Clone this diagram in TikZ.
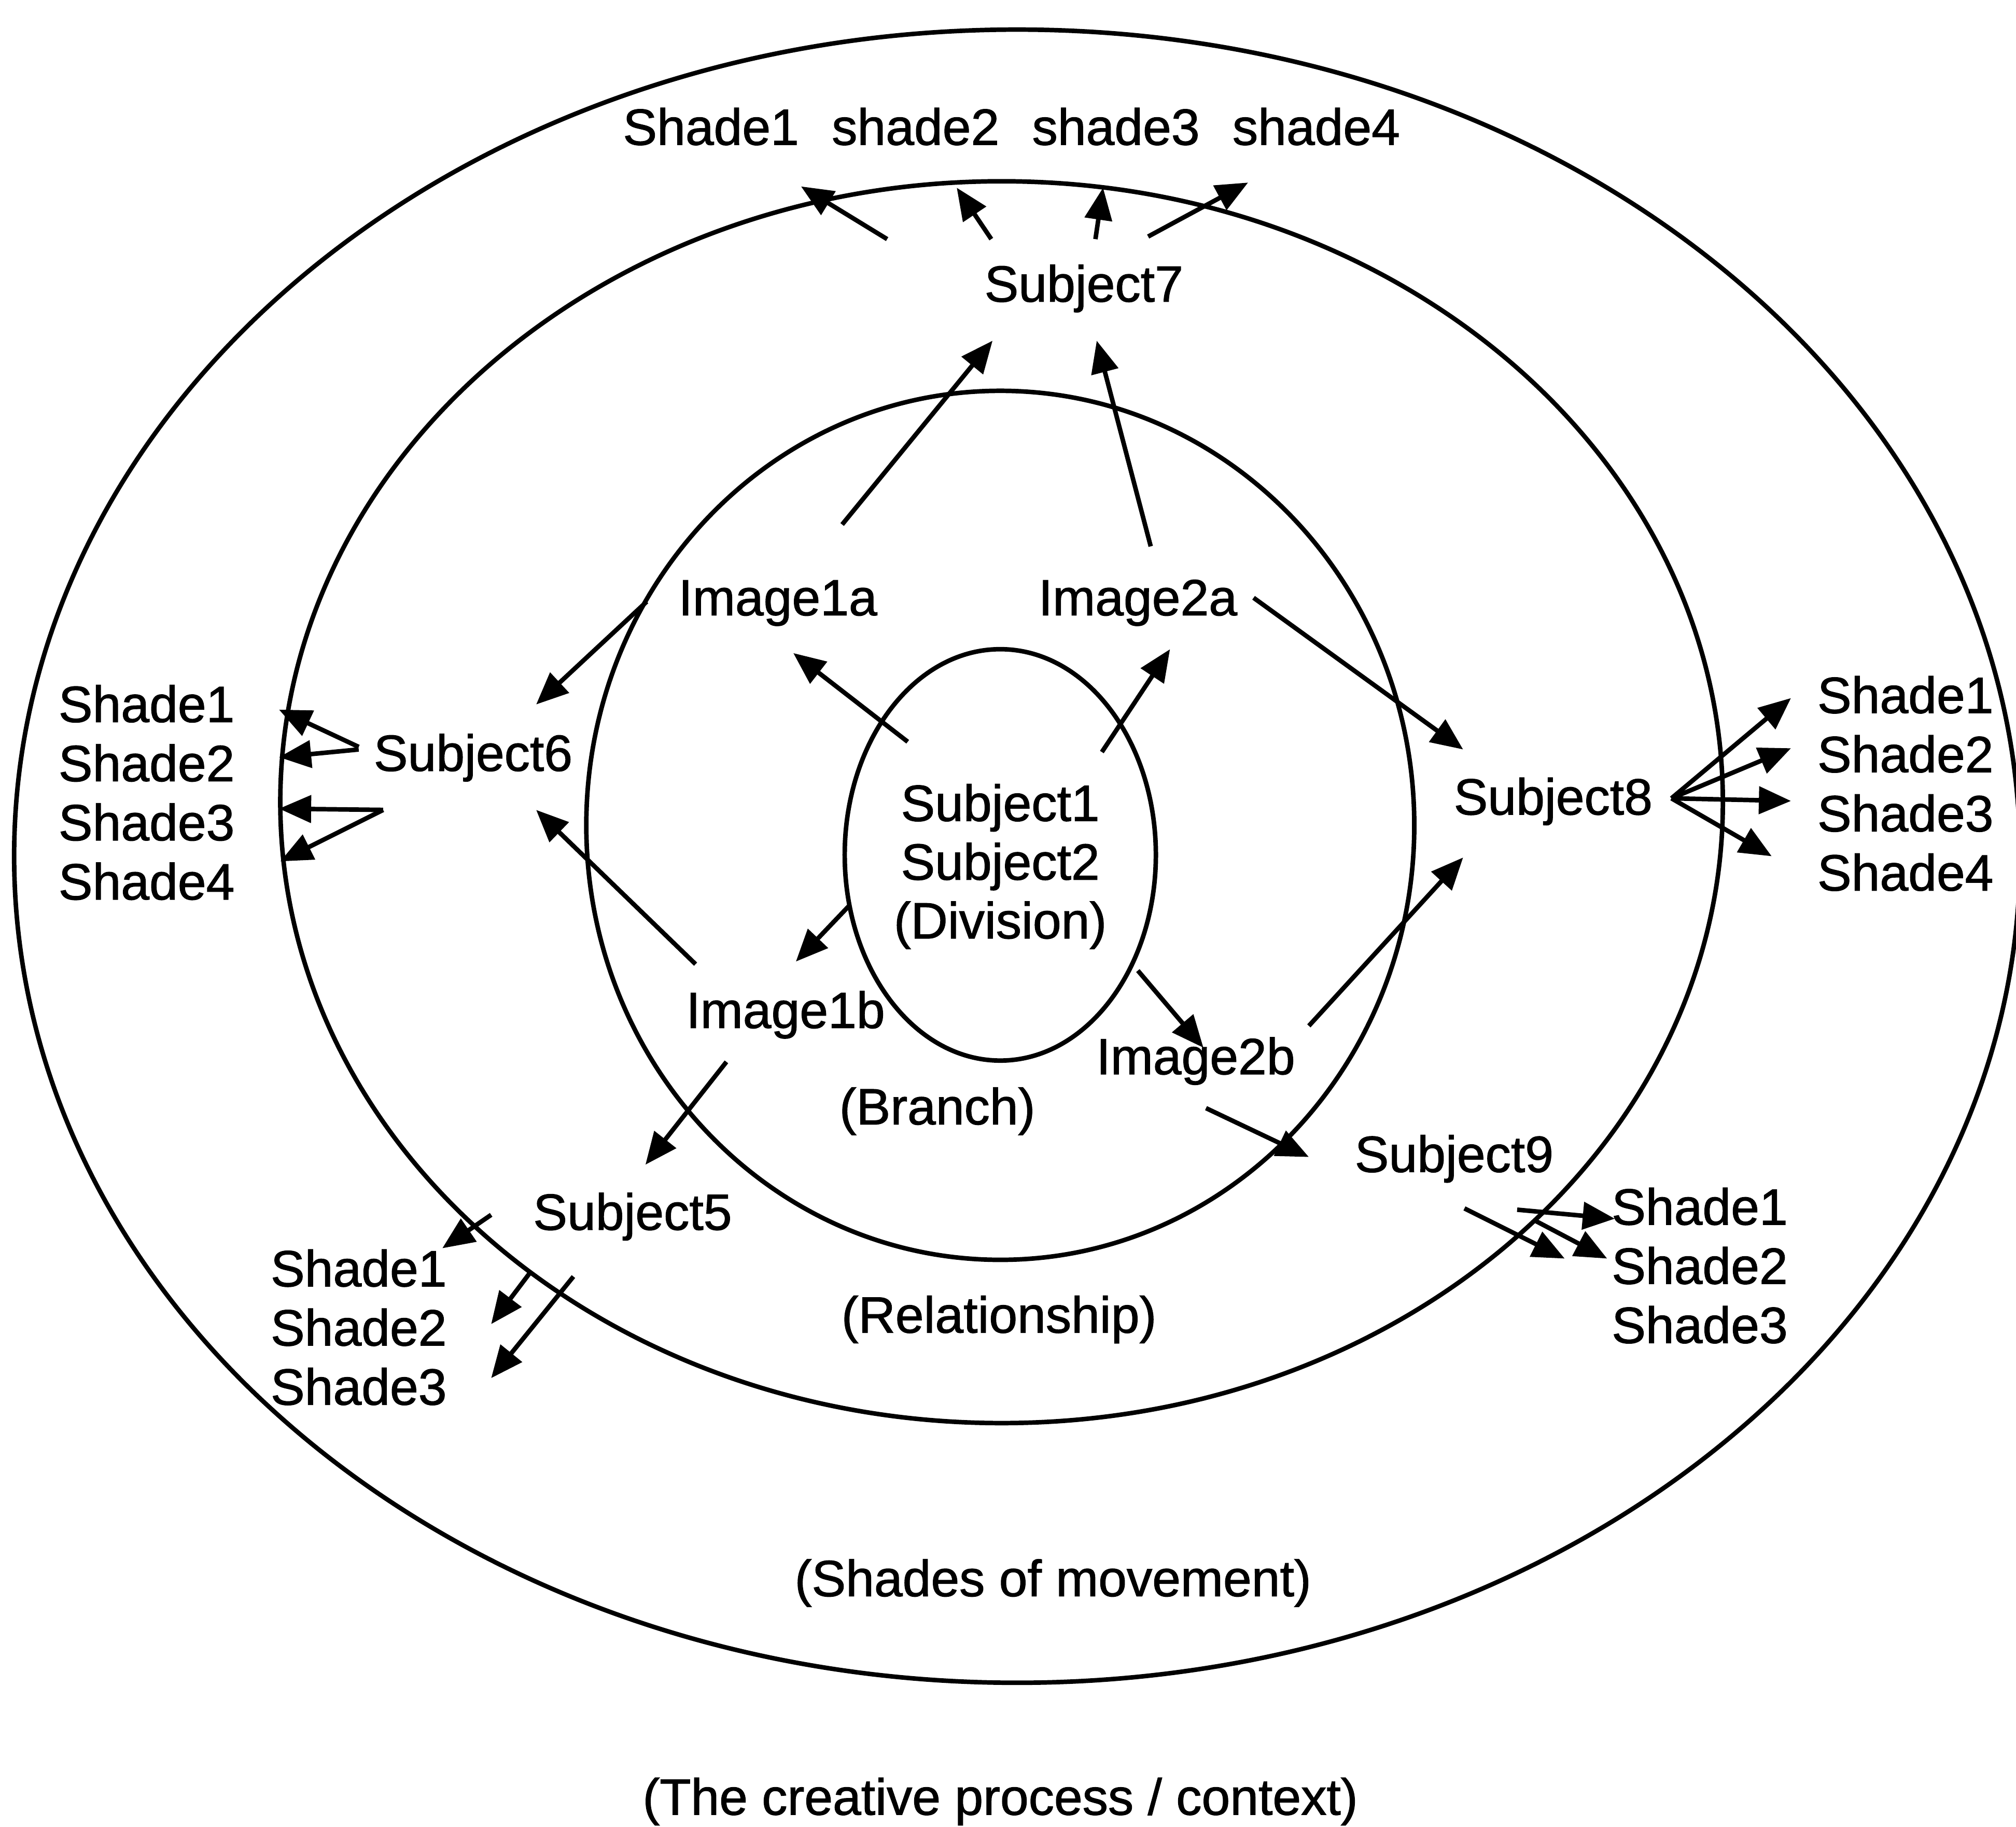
\documentclass[tikz,border=0pt]{standalone}
\usepackage{fontspec}
\setmainfont{Liberation Sans}[FakeBold=1.2]
\usetikzlibrary{positioning, arrows.meta}

\begin{document}
\begin{tikzpicture}[x=0.1mm, y=-0.1mm, line width=1pt, node distance=1.72mm,
    every node/.style={font=\fontsize{11.3}{13}\selectfont},
    lbl/.style={inner sep=0pt, text height=0.72em, text depth=0pt},
    arr/.style={-{Triangle[length=2.5mm, width=2.1mm]}}]
    \useasboundingbox (0,0) rectangle (1568,1421);
    % Rings: context, shades of movement, relationship, division
    \draw (791,666) ellipse [x radius=780, y radius=643];
    \draw (779,624) ellipse [x radius=561, y radius=483];
    \draw (778,642) ellipse [x radius=322, y radius=338];
    \draw (778,665) ellipse [x radius=121, y radius=160];
    % Centre
    \node[align=center] (core) at (778,674) {Subject1\\Subject2\\(Division)};
    % Images
    \node[lbl] (img1a) at (605,466) {Image1a};
    \node[lbl] (img2a) at (885,466) {Image2a};
    \node[lbl] (img1b) at (611,787) {Image1b};
    \node[lbl] (img2b) at (930,823) {Image2b};
    % Subjects
    \node[lbl] (s7) at (843,222) {Subject7};
    \node[lbl] (s6) at (368,587) {Subject6};
    \node[lbl] (s8) at (1208,621) {Subject8};
    \node[lbl] (s9) at (1131,899) {Subject9};
    \node[lbl] (s5) at (492,944) {Subject5};
    % Shades above Subject7
    \node[lbl] (t1) at (553,100) {Shade1};
    \node[lbl, right=2.2mm of t1] (t2) {shade2};
    \node[lbl, right=2.2mm of t2] (t3) {shade3};
    \node[lbl, right=2.2mm of t3] (t4) {shade4};
    % Shades left of Subject6
    \node[lbl] (l1) at (114,549) {Shade1};
    \node[lbl, below=of l1] (l2) {Shade2};
    \node[lbl, below=of l2] (l3) {Shade3};
    \node[lbl, below=of l3] (l4) {Shade4};
    % Shades right of Subject8
    \node[lbl] (r1) at (1482,542) {Shade1};
    \node[lbl, below=of r1] (r2) {Shade2};
    \node[lbl, below=of r2] (r3) {Shade3};
    \node[lbl, below=of r3] (r4) {Shade4};
    % Shades of Subject5 and Subject9
    \node[lbl] (bl1) at (279,988) {Shade1};
    \node[lbl, below=of bl1] (bl2) {Shade2};
    \node[lbl, below=of bl2] (bl3) {Shade3};
    \node[lbl] (br1) at (1322,940) {Shade1};
    \node[lbl, below=of br1] (br2) {Shade2};
    \node[lbl, below=of br2] (br3) {Shade3};
    % Ring names
    \node[lbl] (branch) at (729,862) {(Branch)};
    \node[lbl] (rel) at (777,1024) {(Relationship)};
    \node[lbl] (mov) at (819,1229) {(Shades of movement)};
    \node[lbl] (ctx) at (778,1399) {(The creative process / context)};
    % Division to images
    \draw[arr] ([shift={(-72,-97)}]core.center) -- ([shift={(12,42)}]img1a.center);
    \draw[arr] ([shift={(79,-89)}]core.center) -- ([shift={(25,39)}]img2a.center);
    \draw[arr] ([shift={(-118,31)}]core.center) -- ([shift={(8,-39)}]img1b.center);
    \draw[arr] ([shift={(107,81)}]core.center) -- ([shift={(6,-8)}]img2b.center);
    % Images to subjects
    \draw[arr] ([shift={(50,-58)}]img1a.center) -- ([shift={(-71,43)}]s7.center);
    \draw[arr] ([shift={(10,-41)}]img2a.center) -- ([shift={(10,43)}]s7.center);
    \draw[arr] ([shift={(-102,2)}]img1a.center) -- ([shift={(49,-39)}]s6.center);
    \draw[arr] ([shift={(-70,-37)}]img1b.center) -- ([shift={(49,43)}]s6.center);
    \draw[arr] ([shift={(90,-1)}]img2a.center) -- ([shift={(-70,-38)}]s8.center);
    \draw[arr] ([shift={(88,-25)}]img2b.center) -- ([shift={(-70,46)}]s8.center);
    \draw[arr] ([shift={(-46,39)}]img1b.center) -- ([shift={(10,-38)}]s5.center);
    \draw[arr] ([shift={(8,39)}]img2b.center) -- ([shift={(-113,1)}]s9.center);
    % Subjects to shades
    \draw[arr] ([shift={(-153,-36)}]s7.center) -- ([shift={(70,45)}]t1.center);
    \draw[arr] ([shift={(-72,-36)}]s7.center) -- ([shift={(32,46)}]t2.center);
    \draw[arr] ([shift={(9,-36)}]s7.center) -- ([shift={(-10,46)}]t3.center);
    \draw[arr] ([shift={(50,-38)}]s7.center) -- ([shift={(-53,42)}]t4.center);
    \draw[arr] ([shift={(-89,-6)}]s6.center) -- ([shift={(103,3)}]l1.center);
    \draw[arr] ([shift={(-89,-4)}]s6.center) -- ([shift={(103,-6)}]l2.center);
    \draw[arr] ([shift={(-70,43)}]s6.center) -- ([shift={(103,-12)}]l3.center);
    \draw[arr] ([shift={(-70,43)}]s6.center) -- ([shift={(104,-17)}]l4.center);
    \draw[arr] ([shift={(92,0)}]s8.center) -- ([shift={(-89,1)}]r1.center);
    \draw[arr] ([shift={(92,0)}]s8.center) -- ([shift={(-89,-6)}]r2.center);
    \draw[arr] ([shift={(92,0)}]s8.center) -- ([shift={(-89,-11)}]r3.center);
    \draw[arr] ([shift={(92,0)}]s8.center) -- ([shift={(-104,-14)}]r4.center);
    \draw[arr] ([shift={(-110,1)}]s5.center) -- ([shift={(65,-17)}]bl1.center);
    \draw[arr] ([shift={(-79,45)}]s5.center) -- ([shift={(103,-4)}]bl2.center);
    \draw[arr] ([shift={(-46,49)}]s5.center) -- ([shift={(103,-8)}]bl3.center);
    \draw[arr] ([shift={(49,42)}]s9.center) -- ([shift={(-66,8)}]br1.center);
    \draw[arr] ([shift={(62,50)}]s9.center) -- ([shift={(-72,-7)}]br2.center);
    \draw[arr] ([shift={(8,41)}]s9.center) -- ([shift={(-105,-7)}]br2.center);
\end{tikzpicture}
\end{document}
